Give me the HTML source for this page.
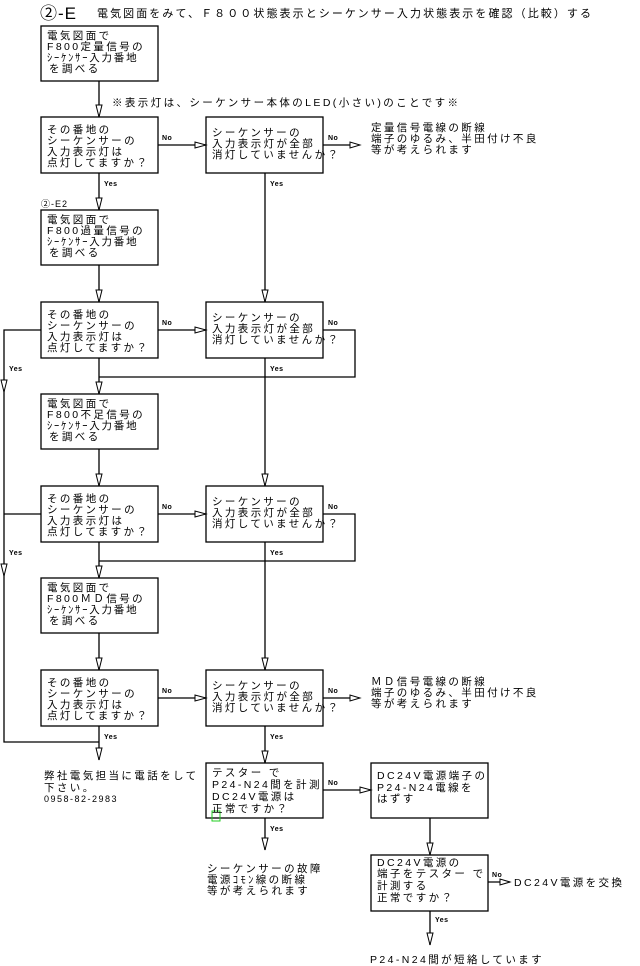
<!DOCTYPE html>
<html><head><meta charset="utf-8"><style>
html,body{margin:0;padding:0;background:#fff;}
svg{display:block;}
text{font-family:"Liberation Sans","Noto Sans CJK JP",sans-serif;font-size:10.5px;letter-spacing:2.4px;fill:#000;}
.s{font-size:7px;letter-spacing:0.5px;font-weight:bold;}
.t{font-size:11px;letter-spacing:2px;}
</style></head><body>
<svg width="640" height="966" viewBox="0 0 640 966" xmlns="http://www.w3.org/2000/svg">
<g fill="none" stroke="#000" stroke-width="1.3">
<rect x="41" y="26" width="117" height="55"/>
<rect x="41" y="210" width="117" height="55"/>
<rect x="41" y="394" width="117" height="55"/>
<rect x="41" y="578" width="117" height="55"/>
<rect x="41" y="117" width="117" height="56"/><rect x="206" y="117" width="117" height="56"/>
<rect x="41" y="302" width="117" height="56"/><rect x="206" y="302" width="117" height="56"/>
<rect x="41" y="486" width="117" height="56"/><rect x="206" y="486" width="117" height="56"/>
<rect x="41" y="670" width="117" height="56"/><rect x="206" y="670" width="117" height="56"/>
<rect x="206" y="763" width="117" height="55"/>
<rect x="371" y="763" width="117" height="55"/>
<rect x="371" y="855" width="117" height="56"/>
<path d="M99 81V117M99 173V210M99 265V302M99 358V394M99 449V486M99 542V578M99 633V670M99 726V760"/>
<path d="M265 173V302M265 358V486M265 542V670M265 726V763M265 818V850"/>
<path d="M158 145H206M158 330H206M158 514H206M158 698H206"/>
<path d="M323 145H358M323 698H358"/>
<path d="M323 330H355V377H99M323 514H355V561H99"/>
<path d="M41 330H4V742H99M41 514H4"/>
<path d="M323 790H371M430 818V855M430 911V945M488 882H510"/>
</g>
<g fill="#fff" stroke="#000" stroke-width="1">
<polygon points="96,105 102,105 99,117"/><polygon points="96,198 102,198 99,210"/>
<polygon points="96,290 102,290 99,302"/><polygon points="96,382 102,382 99,394"/>
<polygon points="96,474 102,474 99,486"/><polygon points="96,566 102,566 99,578"/>
<polygon points="96,658 102,658 99,670"/><polygon points="96,748 102,748 99,760"/>
<polygon points="262,290 268,290 265,302"/><polygon points="262,474 268,474 265,486"/>
<polygon points="262,658 268,658 265,670"/><polygon points="262,751 268,751 265,763"/>
<polygon points="262,838 268,838 265,850"/>
<polygon points="1,380 7,380 4,392"/><polygon points="1,564 7,564 4,576"/>
<polygon points="427,843 433,843 430,855"/><polygon points="427,933 433,933 430,945"/>
<polygon points="195,142 195,148 206,145"/><polygon points="195,327 195,333 206,330"/>
<polygon points="195,511 195,517 206,514"/><polygon points="195,695 195,701 206,698"/>
<polygon points="350,142 350,148 360,145"/><polygon points="350,695 350,701 360,698"/>
<polygon points="360,787 360,793 371,790"/><polygon points="500,879 500,885 510,882"/>
</g>
<rect x="212" y="811" width="8" height="10" fill="none" stroke="#2c2" stroke-width="1"/>
<g>
<text class="s" x="162" y="140">No</text><text class="s" x="328" y="140">No</text>
<text class="s" x="162" y="325">No</text><text class="s" x="328" y="325">No</text>
<text class="s" x="162" y="509">No</text><text class="s" x="328" y="509">No</text>
<text class="s" x="162" y="693">No</text><text class="s" x="328" y="693">No</text>
<text class="s" x="328" y="785">No</text><text class="s" x="492" y="877">No</text>
<text class="s" x="104" y="186">Yes</text><text class="s" x="270" y="186">Yes</text>
<text class="s" x="270" y="371">Yes</text><text class="s" x="9" y="371">Yes</text>
<text class="s" x="270" y="555">Yes</text><text class="s" x="9" y="555">Yes</text>
<text class="s" x="104" y="739">Yes</text><text class="s" x="270" y="739">Yes</text>
<text class="s" x="270" y="831">Yes</text><text class="s" x="435" y="922">Yes</text>
</g>
<text x="40" y="19" style="font-size:17px;letter-spacing:1px">②-E</text>
<text class="t" x="97" y="17" textLength="496" lengthAdjust="spacing">電気図面をみて、Ｆ８００状態表示とシーケンサー入力状態表示を確認（比較）する</text>
<text x="112" y="106">※表示灯は、シーケンサー本体のLED(小さい)のことです※</text>
<text x="41" y="207" style="font-size:9px;letter-spacing:1px">②-E2</text>
<g>
<text x="47" y="39">電気図面で</text><text x="47" y="50">F800定量信号の</text><text x="47" y="61" textLength="92">ｼｰｹﾝｻｰ入力番地</text><text x="49" y="72">を調べる</text>
<text x="47" y="223">電気図面で</text><text x="47" y="234">F800過量信号の</text><text x="47" y="245" textLength="92">ｼｰｹﾝｻｰ入力番地</text><text x="49" y="256">を調べる</text>
<text x="47" y="407">電気図面で</text><text x="47" y="418">F800不足信号の</text><text x="47" y="429" textLength="92">ｼｰｹﾝｻｰ入力番地</text><text x="49" y="440">を調べる</text>
<text x="47" y="591">電気図面で</text><text x="47" y="602">F800ＭＤ信号の</text><text x="47" y="613" textLength="92">ｼｰｹﾝｻｰ入力番地</text><text x="49" y="624">を調べる</text>
</g>
<g>
<text x="47" y="133">その番地の</text><text x="47" y="144">シーケンサーの</text><text x="47" y="155">入力表示灯は</text><text x="47" y="166">点灯してますか？</text>
<text x="47" y="318">その番地の</text><text x="47" y="329">シーケンサーの</text><text x="47" y="340">入力表示灯は</text><text x="47" y="351">点灯してますか？</text>
<text x="47" y="502">その番地の</text><text x="47" y="513">シーケンサーの</text><text x="47" y="524">入力表示灯は</text><text x="47" y="535">点灯してますか？</text>
<text x="47" y="686">その番地の</text><text x="47" y="697">シーケンサーの</text><text x="47" y="708">入力表示灯は</text><text x="47" y="719">点灯してますか？</text>
<text x="212" y="136">シーケンサーの</text><text x="212" y="147">入力表示灯が全部</text><text x="212" y="158">消灯していませんか？</text>
<text x="212" y="321">シーケンサーの</text><text x="212" y="332">入力表示灯が全部</text><text x="212" y="343">消灯していませんか？</text>
<text x="212" y="505">シーケンサーの</text><text x="212" y="516">入力表示灯が全部</text><text x="212" y="527">消灯していませんか？</text>
<text x="212" y="689">シーケンサーの</text><text x="212" y="700">入力表示灯が全部</text><text x="212" y="711">消灯していませんか？</text>
</g>
<text x="371" y="131">定量信号電線の断線</text><text x="371" y="142">端子のゆるみ、半田付け不良</text><text x="371" y="153">等が考えられます</text>
<text x="371" y="685">ＭＤ信号電線の断線</text><text x="371" y="696">端子のゆるみ、半田付け不良</text><text x="371" y="707">等が考えられます</text>
<text x="212" y="776">テスター で</text><text x="212" y="788">P24-N24間を計測</text><text x="212" y="800">DC24V電源は</text><text x="212" y="812">正常ですか？</text>
<text x="377" y="779">DC24V電源端子の</text><text x="377" y="791">P24-N24電線を</text><text x="377" y="802">はずす</text>
<text x="377" y="866">DC24V電源の</text><text x="377" y="877">端子をテスター で</text><text x="377" y="889">計測する</text><text x="377" y="901">正常ですか？</text>
<text x="514" y="886">DC24V電源を交換</text>
<text x="44" y="779">弊社電気担当に電話をして</text><text x="44" y="791">下さい。</text><text x="44" y="802" style="font-size:9px;letter-spacing:1.5px">0958-82-2983</text>
<text x="207" y="872">シーケンサーの故障</text><text x="207" y="883">電源ｺﾓﾝ線の断線</text><text x="207" y="894">等が考えられます</text>
<text x="370" y="963">P24-N24間が短絡しています</text>
</svg>
</body></html>
